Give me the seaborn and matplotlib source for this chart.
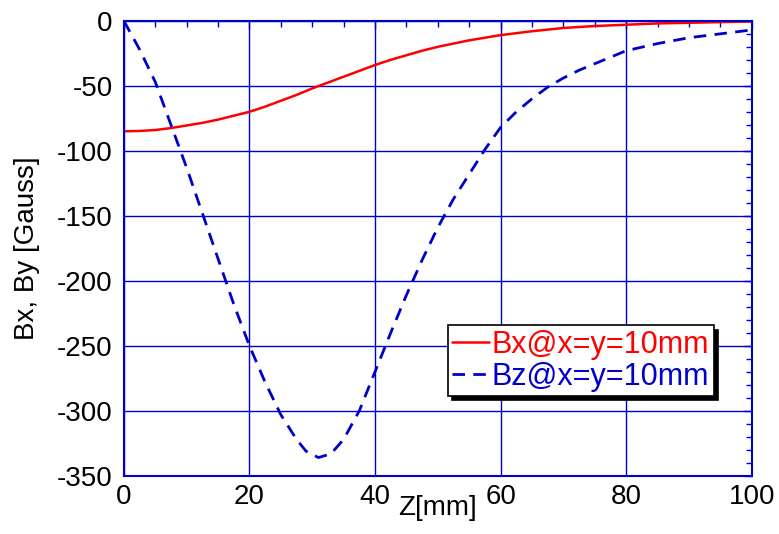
import numpy as np
import pandas as pd
import matplotlib.pyplot as plt
import seaborn as sns
from matplotlib.ticker import MultipleLocator

# Bx at x=y=10mm
z_bx = [0, 2.5, 5, 7.5, 10, 12.5, 15, 17.5, 20, 22.5, 25, 27.5, 30, 32.5, 35, 37.5, 40,
        42.5, 45, 47.5, 50, 55, 60, 65, 70, 75, 80, 85, 90, 95, 100]
bx = [-85, -84.7, -84, -82.5, -80.5, -78.5, -76, -73, -70, -66, -61.5, -57, -52, -47.5,
      -43, -38.5, -34, -30, -26.5, -23, -20, -15, -11, -8, -5.5, -4, -3, -2, -1.5, -1, -0.5]

# Bz at x=y=10mm
z_bz = [0, 2.5, 5, 7.5, 10, 12.5, 15, 17.5, 20, 22.5, 25, 27.5, 29, 31, 33, 35, 37.5, 40,
        42.5, 45, 47.5, 50, 52.5, 55, 57.5, 60, 62.5, 65, 67.5, 70, 72.5, 75, 77.5, 80,
        85, 90, 95, 100]
bz = [0, -22, -47, -80, -113, -148, -183, -218, -250, -278, -303, -322, -331, -336,
      -333, -322, -300, -270, -240, -211, -184, -159, -137, -118, -99, -82, -70, -60,
      -51, -44, -38, -33, -28, -23, -17.5, -13, -10, -7]

df_bx = pd.DataFrame({"z": z_bx, "b": bx})
df_bz = pd.DataFrame({"z": z_bz, "b": bz})

sns.set_style("white")
plt.rcParams['font.family'] = ['Liberation Sans', 'DejaVu Sans']
plt.rcParams['axes.unicode_minus'] = False
plt.rcParams['text.color'] = 'black'
plt.rcParams['axes.labelcolor'] = 'black'

blue = "#0000cc"
fig = plt.figure(figsize=(7.79, 5.34), dpi=100)
ax = fig.add_axes([0.159, 0.109, 0.806, 0.852])

sns.lineplot(data=df_bx, x="z", y="b", ax=ax, color="#ff0000", lw=1.8,
             label="Bx@x=y=10mm")
sns.lineplot(data=df_bz, x="z", y="b", ax=ax, color=blue, lw=2.0,
             label="Bz@x=y=10mm", linestyle=(0, (4.5, 3)))

ax.set_xlim(0, 100)
ax.set_ylim(-350, 0)
ax.xaxis.set_major_locator(MultipleLocator(20))
ax.xaxis.set_minor_locator(MultipleLocator(5))
ax.yaxis.set_major_locator(MultipleLocator(50))
ax.yaxis.set_minor_locator(MultipleLocator(10))

ax.grid(True, which="major", color=blue, lw=1)
for s in ax.spines.values():
    s.set_color(blue)
    s.set_linewidth(1.5)
ax.tick_params(which="both", direction="in", top=True, right=True, color=blue,
               labelsize=20, labelcolor="black")
ax.tick_params(which="major", length=6, width=1)
ax.tick_params(which="minor", length=4, width=1)
ax.tick_params(axis="x", pad=6)
ax.tick_params(axis="y", pad=8)

ax.set_xlabel("Z[mm]", fontsize=20, color="black")
ax.xaxis.set_label_coords(0.5, -0.042, transform=ax.transAxes)
ax.xaxis.label.set_va("top")
ax.set_ylabel("Bx, By [Gauss]", fontsize=20, labelpad=12, color="black")

leg = ax.legend(loc="lower right", bbox_to_anchor=(0.94, 0.175), fontsize=22,
                frameon=True, fancybox=False, shadow={"color": "black", "alpha": 1,
                                                      "ox": 3, "oy": -3},
                handlelength=1.2, handletextpad=0.1, borderpad=0.15, labelspacing=0.05,
                borderaxespad=0)
leg.get_frame().set_edgecolor("black")
leg.get_frame().set_linewidth(1.2)
leg.get_frame().set_alpha(1)
for t, c in zip(leg.get_texts(), ["#ff0000", blue]):
    t.set_color(c)

fig.savefig("out.png", dpi=100)
